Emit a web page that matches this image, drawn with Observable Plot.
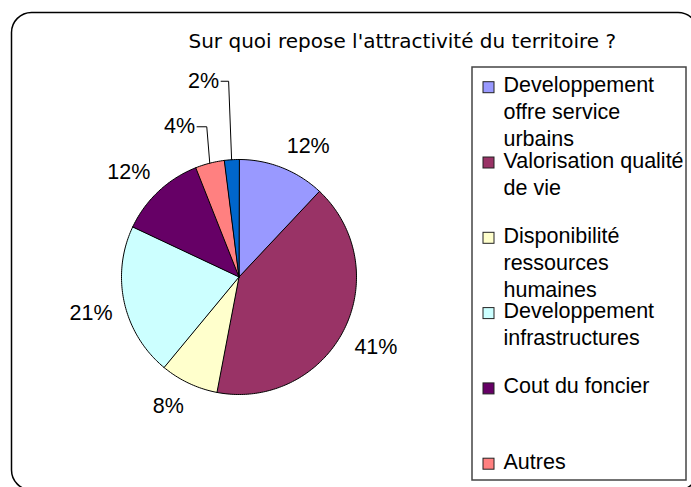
<!DOCTYPE html>
<html>
<head>
<meta charset="utf-8">
<script src="https://cdn.jsdelivr.net/npm/d3@7"></script>
<script src="https://cdn.jsdelivr.net/npm/@observablehq/plot@0.6"></script>
<style>
  html, body { margin: 0; padding: 0; background: #fff; }
  #chart { width: 691px; height: 487px; overflow: hidden; }
</style>
</head>
<body>
<div id="chart"></div>
<script>
// ---------------- data ----------------
const title = "Sur quoi repose l'attractivité du territoire ?";
const categories = [
  "Developpement offre service urbains",
  "Valorisation qualité de vie",
  "Disponibilité ressources humaines",
  "Developpement infrastructures",
  "Cout du foncier",
  "Autres",
  "Non renseigné"
];
const values = [12, 41, 8, 21, 12, 4, 2];
const colors = ["#9999FF", "#993366", "#FFFFCC", "#CCFFFF", "#660066", "#FF8080", "#0066CC"];

// ---------------- layout ----------------
const W = 691, H = 487;
const cx = 238.5, cy = 276.5, R = 117.5;
const labelFontSize = 21.5;
const labelFont = `${labelFontSize}px "Liberation Sans"`;
const labelFamily = "Liberation Sans, Arial, Helvetica, sans-serif";
const labelGap = 12, labelHalfH = 11, labelK = 3;
// manual displacement of the crowded small-slice labels (index -> [dx, dy])
const labelNudge = {5: [-15.7, -14.8], 6: [-24.4, -56.5]};
const legendBox = {x1: 472, x2: 686, y1: 67, y2: 480};
const legendSwatchX = 483, legendSwatchSize = 11, legendTextX = 503;
const legendFirstBaseline = 91.7, legendSlot = 75.3, legendLineH = 27, legendMaxW = 186;
const border = {x1: 11.5, x2: 698, y1: 12.5, y2: 490, r: 20};

// ---------------- helpers ----------------
const mctx = document.createElement("canvas").getContext("2d");
function textWidth(s, font) { mctx.font = font; return mctx.measureText(s).width; }
function wrap(s, font, maxW) {
  const words = s.split(" "), lines = [];
  let cur = "";
  for (const w of words) {
    const t = cur ? cur + " " + w : w;
    if (cur && textWidth(t, font) > maxW) { lines.push(cur); cur = w; } else cur = t;
  }
  if (cur) lines.push(cur);
  return lines;
}
const clamp = v => Math.max(-1, Math.min(1, v));

// ---------------- slices ----------------
const total = d3.sum(values);
const ends = d3.cumsum(values);
const slices = values.map((v, i) => {
  const a0 = (ends[i] - v) / total * 2 * Math.PI;
  const a1 = ends[i] / total * 2 * Math.PI;
  const n = Math.max(2, Math.ceil((a1 - a0) / (Math.PI / 180)));
  const pts = [{x: cx, y: cy}];
  for (let k = 0; k <= n; ++k) {
    const a = a0 + (a1 - a0) * k / n;
    pts.push({x: cx + R * Math.sin(a), y: cy - R * Math.cos(a)});
  }
  const mid = (a0 + a1) / 2;
  const ux = Math.sin(mid), uy = -Math.cos(mid);
  const ex = cx + R * ux, ey = cy + R * uy;
  const text = `${v}%`;
  const w = textWidth(text, labelFont);
  let lx = ex + labelGap * ux + (w / 2) * clamp(labelK * ux);
  let ly = ey + labelGap * uy + labelHalfH * clamp(labelK * uy);
  let leader = null;
  if (labelNudge[i]) {
    lx += labelNudge[i][0];
    ly += labelNudge[i][1];
    const sx = lx + w / 2 + 2;
    leader = [{x: sx, y: ly + 1}, {x: ex - 3, y: ly + 1}, {x: ex, y: ey}];
  }
  return {i, v, color: colors[i], cat: categories[i], pts, text, lx, ly, leader};
});

// ---------------- legend ----------------
const legendItems = [];
const legendLines = [];
categories.forEach((c, i) => {
  const b = legendFirstBaseline + i * legendSlot;
  if (b > legendBox.y2 - 5) return;
  legendItems.push({i, b, color: colors[i]});
  wrap(c, labelFont, legendMaxW).forEach((t, j) => legendLines.push({t, b: b + j * legendLineH}));
});

// ---------------- plot ----------------
const marks = [
  Plot.rect([border], {x1: "x1", x2: "x2", y1: "y1", y2: "y2", rx: border.r, fill: "none", stroke: "#000", strokeWidth: 1.5}),
  Plot.text([title], {x: () => 188, y: () => 47.5, text: d => d, textAnchor: "start", lineAnchor: "bottom",
    fontFamily: "DejaVu Sans, Verdana, sans-serif", fontSize: 20, fill: "#000"})
];
for (const s of slices) {
  marks.push(Plot.line(s.pts, {x: "x", y: "y", fill: s.color, stroke: "#000", strokeWidth: 1, curve: "linear-closed", strokeLinejoin: "miter"}));
}
for (const s of slices) {
  if (s.leader) marks.push(Plot.line(s.leader, {x: "x", y: "y", stroke: "#000", strokeWidth: 1, strokeLinejoin: "miter"}));
}
marks.push(Plot.text(slices, {x: "lx", y: d => d.ly + 7.7, text: "text", textAnchor: "middle", lineAnchor: "bottom",
  fontFamily: labelFamily, fontSize: labelFontSize, fill: "#000"}));
marks.push(Plot.rect([legendBox], {x1: "x1", x2: "x2", y1: "y1", y2: "y2", fill: "#fff", stroke: "#444", strokeWidth: 1.5}));
marks.push(Plot.rect(legendItems, {x1: () => legendSwatchX, x2: () => legendSwatchX + legendSwatchSize,
  y1: d => d.b - 10, y2: d => d.b - 10 + legendSwatchSize, fill: "color", stroke: "#222", strokeWidth: 1}));
marks.push(Plot.text(legendLines, {x: () => legendTextX, y: "b", text: "t", textAnchor: "start", lineAnchor: "bottom",
  fontFamily: labelFamily, fontSize: labelFontSize, fill: "#000"}));

const chart = Plot.plot({
  width: W, height: H, margin: 0,
  x: {domain: [0, W], range: [0, W], axis: null},
  y: {domain: [0, H], range: [0, H], axis: null},
  style: {background: "#fff", overflow: "hidden"},
  marks
});
document.getElementById("chart").appendChild(chart);
</script>
</body>
</html>
